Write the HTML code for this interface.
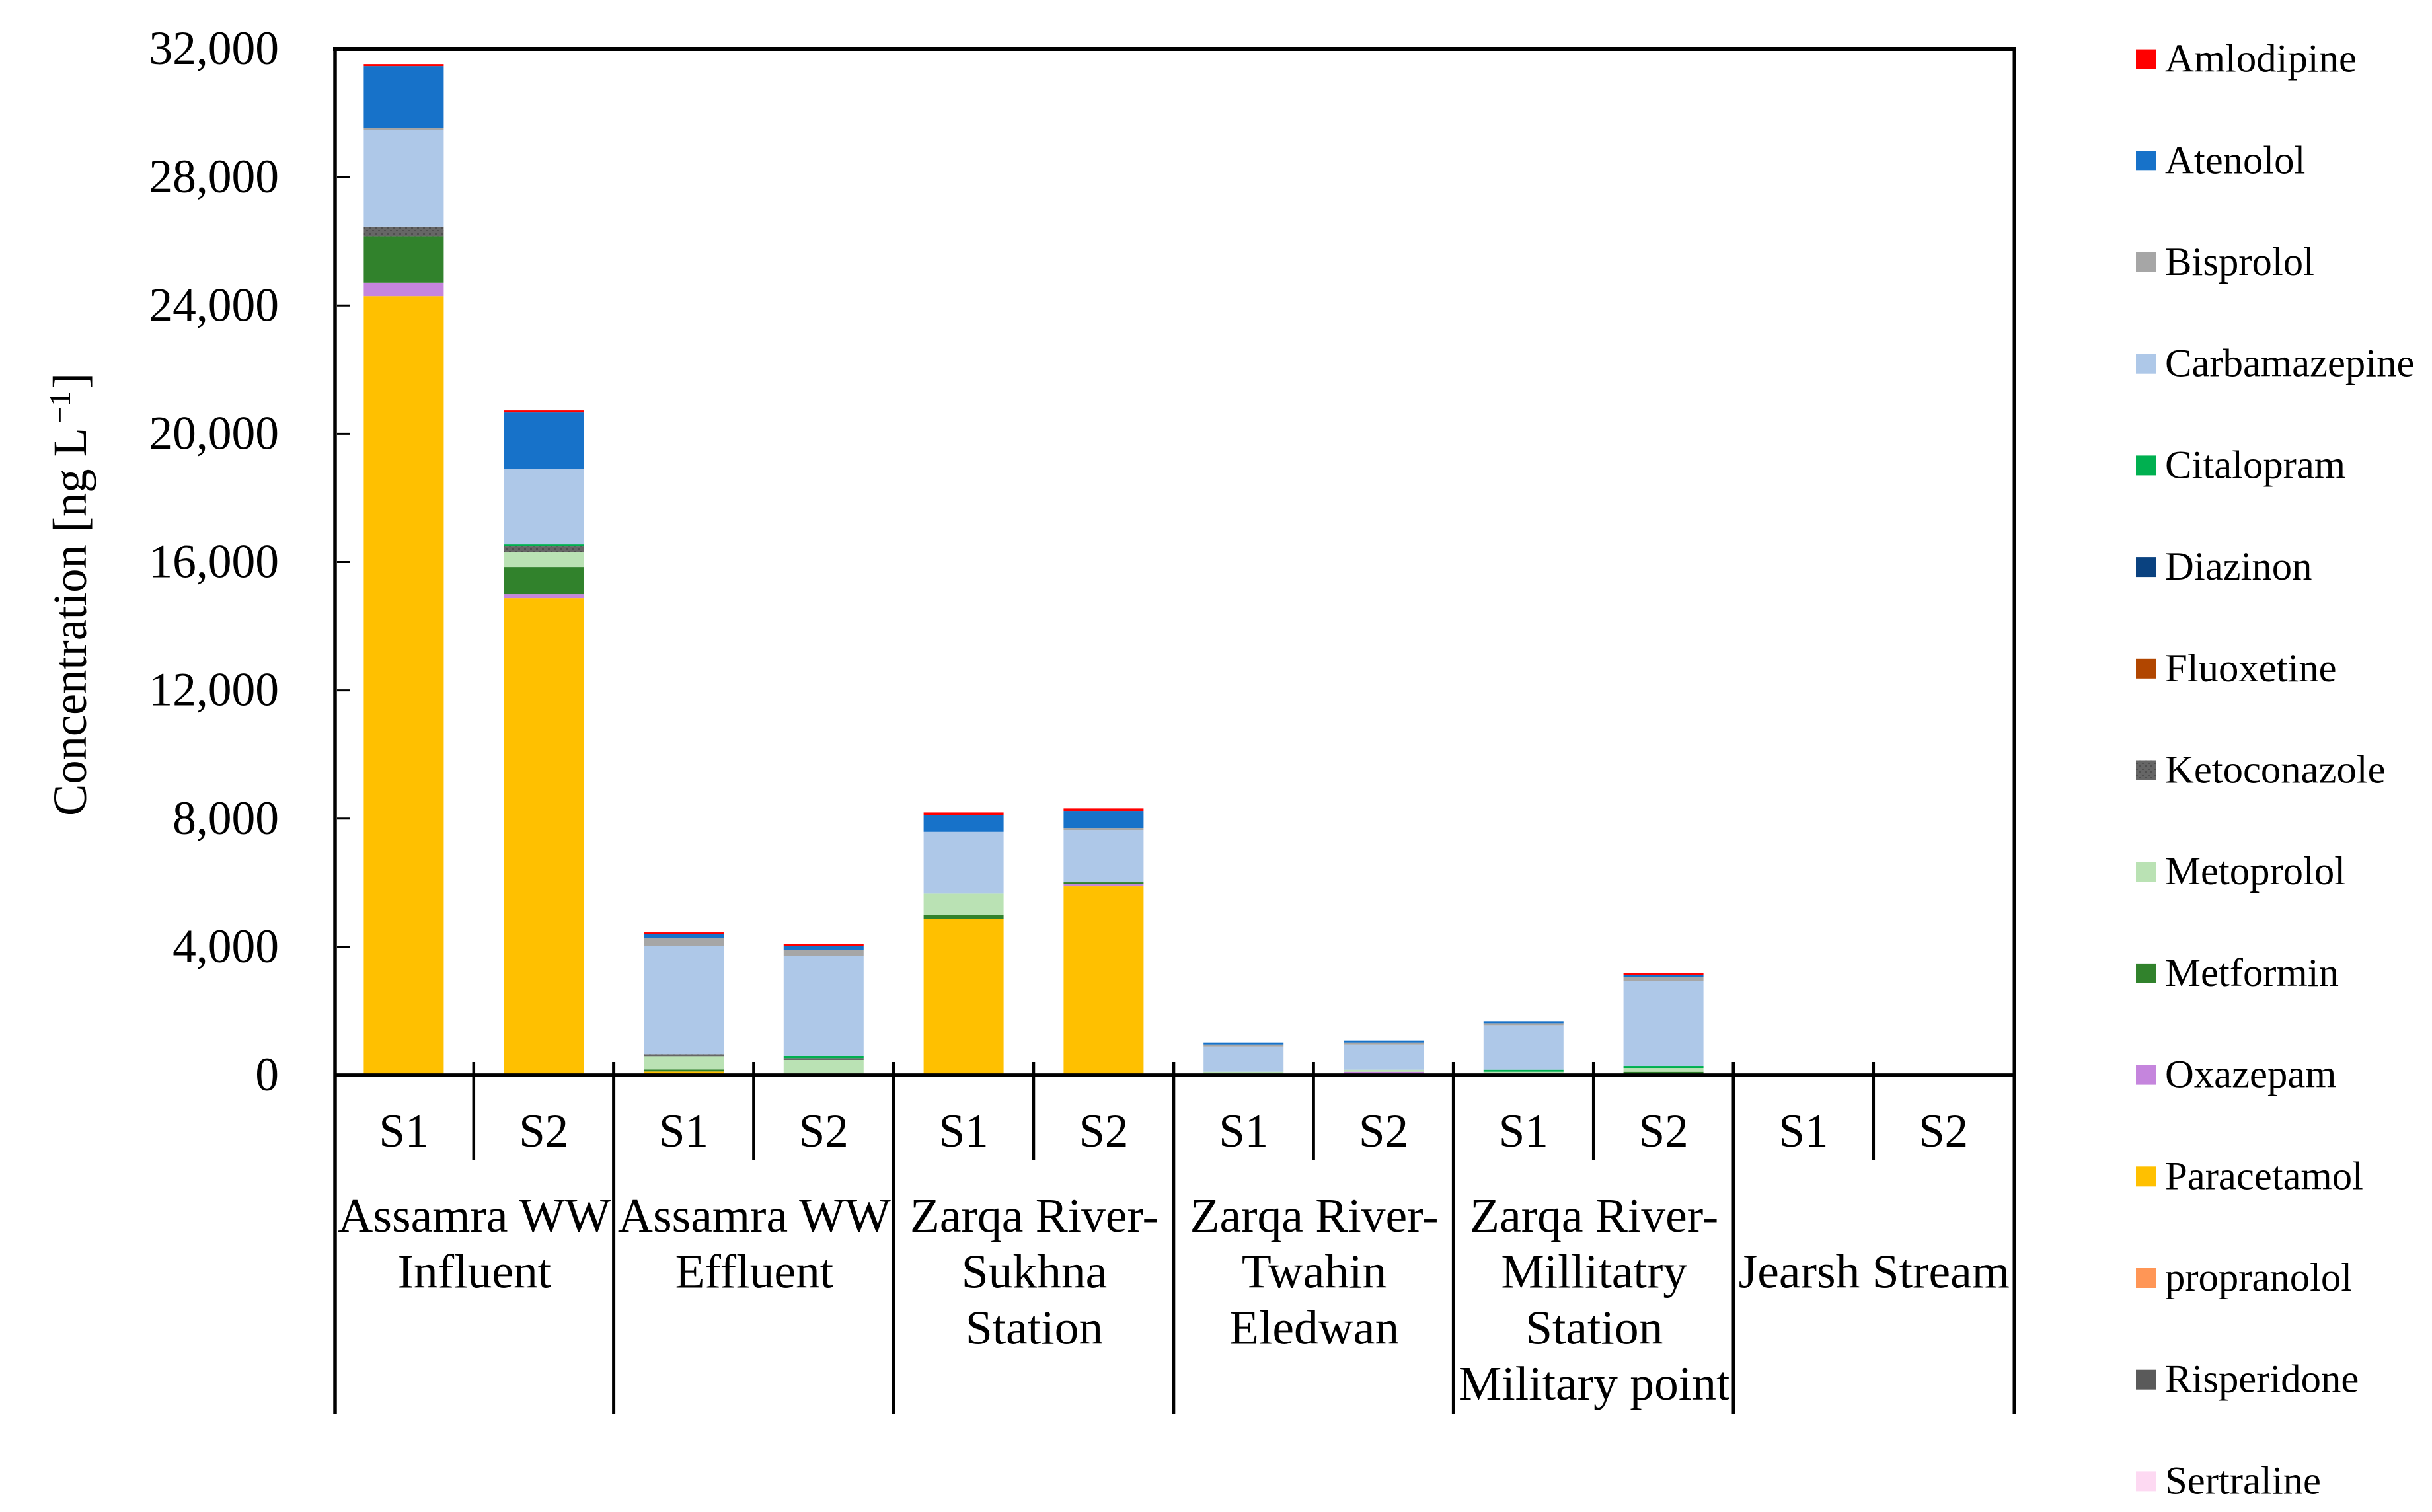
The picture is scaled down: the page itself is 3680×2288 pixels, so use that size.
<!DOCTYPE html>
<html lang="en">
<head>
<meta charset="utf-8">
<title>Concentration by sampling site</title>
<style>
  html, body { margin: 0; padding: 0; background: #fff; }
  svg { display: block; }
  text { font-family: "Liberation Serif", "Times New Roman", serif; fill: #000; }
</style>
</head>
<body>
<svg id="chart" xmlns="http://www.w3.org/2000/svg" width="3680" height="2288" viewBox="0 0 3680 2288">
  <defs>
    <pattern id="dots" width="9" height="9" patternUnits="userSpaceOnUse">
      <rect width="9" height="9" fill="#666666"></rect>
      <rect x="1" y="2" width="3" height="2" fill="#4f4f4f"></rect>
      <rect x="5" y="6" width="3" height="2" fill="#4f4f4f"></rect>
    </pattern>
  </defs>
  <rect width="3680" height="2288" fill="#ffffff"></rect>
  <g id="bars"></g>
  <g id="axes"></g>
  <g id="labels"></g>
  <g id="legend"></g>
  <text transform="translate(130 1235) rotate(-90)" font-size="72.5">Concentration [ng L<tspan dy="-24" dx="6" font-size="46">−1</tspan><tspan dy="24" dx="4">]</tspan></text>
</svg>
<script>
// Category labels
const sampleLabels = ["S1","S2","S1","S2","S1","S2","S1","S2","S1","S2","S1","S2"];
const groupLabels = [
  ["Assamra WW","Influent"],
  ["Assamra WW","Effluent"],
  ["Zarqa River-","Sukhna","Station"],
  ["Zarqa River-","Twahin","Eledwan"],
  ["Zarqa River-","Millitatry","Station","Military point"],
  ["","Jearsh Stream"]
];
// Axis ticks
const tickValues = [0,4000,8000,12000,16000,20000,24000,28000,32000];
const tickLabels = ["0","4,000","8,000","12,000","16,000","20,000","24,000","28,000","32,000"];
// Series values, one per bar: Inf S1, Inf S2, Eff S1, Eff S2, Suk S1, Suk S2, Twa S1, Twa S2, Mil S1, Mil S2, Jer S1, Jer S2
const amlodipine   = [62,62,56,70,76,76,0,0,0,62,0,0];
const atenolol     = [1930,1750,124,115,529,536,62,62,62,62,0,0];
const bisprolol    = [62,0,247,179,0,62,62,62,62,124,0,0];
const carbamazepine= [3010,2350,3370,3131,1928,1627,783,783,1388,2657,0,0];
const citalopram   = [0,62,0,68,0,0,0,0,62,62,0,0];
const diazinon     = [0,0,0,0,0,0,0,0,0,0,0,0];
const fluoxetine   = [0,0,0,0,0,0,0,0,0,0,0,0];
const ketoconazole = [300,185,62,56,0,0,0,0,0,0,0,0];
const metoprolol   = [0,474,412,474,659,0,109,62,109,117,0,0];
const metformin    = [1450,845,62,0,124,62,0,0,0,109,0,0];
const oxazepam     = [420,124,0,0,0,62,0,109,0,0,0,0];
const paracetamol  = [24290,14875,117,0,4876,5892,0,0,0,0,0,0];
const propranolol  = [0,0,0,0,0,0,0,0,0,0,0,0];
const risperidone  = [0,0,0,0,0,0,0,0,0,0,0,0];
const sertraline   = [0,0,0,0,0,0,0,0,0,0,0,0];
// Legend order, top to bottom
const seriesNames = ["Amlodipine","Atenolol","Bisprolol","Carbamazepine","Citalopram","Diazinon","Fluoxetine","Ketoconazole","Metoprolol","Metformin","Oxazepam","Paracetamol","propranolol","Risperidone","Sertraline"];
const seriesValues = [amlodipine,atenolol,bisprolol,carbamazepine,citalopram,diazinon,fluoxetine,ketoconazole,metoprolol,metformin,oxazepam,paracetamol,propranolol,risperidone,sertraline];
const seriesColors = ["#ff0000","#1772c9","#a6a6a6","#aec8e8","#00b050","#0a4280","#b14600","url(#dots)","#bae2b4","#31822c","#c585dd","#ffc000","#ff9656","#5a5a5a","#fdd9f2"];

const NS = "http://www.w3.org/2000/svg";
const zeroY = 1627, topY = 74, maxValue = 32000;
const bandStart = 505, bandWidth = 211.8, barWidth = 121;
const plotLeft = 507, plotRight = 3048, dividerBottom = 2139, dividerTop = 1607, shortBottom = 1756;

function yScale(v) { return zeroY - v * (zeroY - topY) / maxValue; }
function bandCenter(i) { return bandStart + bandWidth * i + bandWidth / 2; }
function make(tag, attrs, parent) {
  const el = document.createElementNS(NS, tag);
  for (const k in attrs) el.setAttribute(k, attrs[k]);
  parent.appendChild(el);
  return el;
}

// Bars: stacked bottom-up, i.e. reverse of the legend order
const barsG = document.getElementById("bars");
sampleLabels.forEach(function (label, i) {
  let cumulative = 0;
  for (let s = seriesNames.length - 1; s >= 0; s--) {
    const v = seriesValues[s][i];
    if (!v) continue;
    const y1 = yScale(cumulative), y2 = yScale(cumulative + v);
    const seg = make("rect", { x: bandCenter(i) - barWidth / 2, y: y2, width: barWidth, height: y1 - y2, fill: seriesColors[s] }, barsG);
    
    
    cumulative += v;
  }
});

// Axes and frame
const axesG = document.getElementById("axes");
const frameTop = make("line", { x1: plotLeft - 3, x2: plotRight + 2.5, y1: topY, y2: topY, stroke: "#000", "stroke-width": 6 }, axesG);


const frameLeft = make("line", { x1: plotLeft, x2: plotLeft, y1: topY, y2: dividerBottom, stroke: "#000", "stroke-width": 5.5 }, axesG);


const frameRight = make("line", { x1: plotRight, x2: plotRight, y1: topY, y2: dividerBottom, stroke: "#000", "stroke-width": 5 }, axesG);


const xAxis = make("line", { x1: plotLeft, x2: plotRight, y1: zeroY, y2: zeroY, stroke: "#000", "stroke-width": 5.7 }, axesG);



for (let i = 1; i < sampleLabels.length; i++) {
  const isGroup = i % 2 === 0;
  const x = bandStart + bandWidth * i;
  const d = make("line", { x1: x, x2: x, y1: dividerTop, y2: isGroup ? dividerBottom : shortBottom, stroke: "#000", "stroke-width": isGroup ? 5 : 4.5 }, axesG);
  
  
}

// Ticks and tick labels
const labelsG = document.getElementById("labels");
tickValues.forEach(function (v, i) {
  const y = yScale(v);
  if (v > 0 && v < maxValue) {
    const t = make("line", { x1: 510, x2: 530, y1: y, y2: y, stroke: "#000", "stroke-width": 3 }, axesG);
    
    
  }
  const lab = make("text", { x: 422, y: y + 23, "text-anchor": "end", "font-size": 71.5 }, labelsG);
  
  
  lab.textContent = tickLabels[i];
});

// Category labels
sampleLabels.forEach(function (s, i) {
  const lab = make("text", { x: bandCenter(i), y: 1735, "text-anchor": "middle", "font-size": 71 }, labelsG);
  
  
  lab.textContent = s;
});
groupLabels.forEach(function (lines, g) {
  const cx = bandStart + bandWidth * 2 * g + bandWidth + 1;
  lines.forEach(function (line, n) {
    if (!line) return;
    const lab = make("text", { x: cx, y: 1864 + 84.7 * n, "text-anchor": "middle", "font-size": 73.5 }, labelsG);
    
    
    lab.textContent = line;
  });
});

// Legend
const legendG = document.getElementById("legend");
seriesNames.forEach(function (name, i) {
  const cy = 89.6 + 153.7 * i;
  const sw = make("rect", { x: 3232, y: cy - 15, width: 30, height: 30, fill: seriesColors[i] }, legendG);
  
  
  const tx = make("text", { x: 3276, y: cy + 19, "font-size": 60.7 }, legendG);
  
  
  tx.textContent = name;
});
</script>
</body>
</html>
